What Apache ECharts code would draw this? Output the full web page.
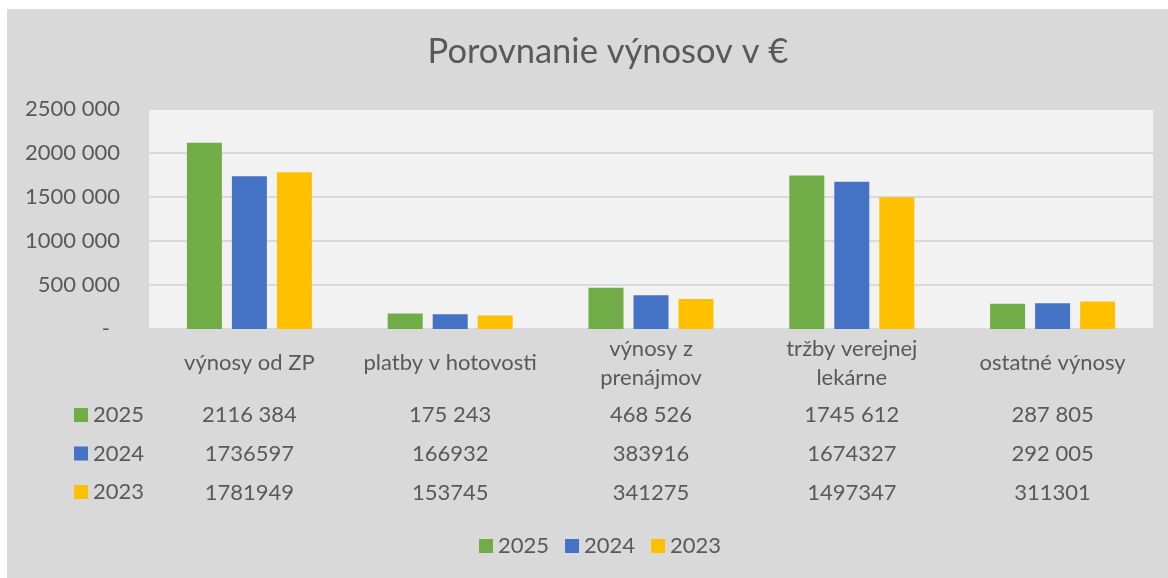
<!DOCTYPE html>
<html>
<head>
<meta charset="utf-8">
<script src="https://cdn.jsdelivr.net/npm/echarts@6/dist/echarts.min.js"></script>
<style>
html,body{margin:0;padding:0;background:#ffffff;width:1168px;height:578px;overflow:hidden;}
#c{position:absolute;left:7px;top:9px;width:1161px;height:569px;}
</style>
</head>
<body>
<div id="c"></div>
<script>
var categories = ['výnosy od ZP', 'platby v hotovosti', 'výnosy z\nprenájmov', 'tržby verejnej\nlekárne', 'ostatné výnosy'];
var seriesNames = ['2025', '2024', '2023'];
var v2025 = [2116384, 175243, 468526, 1745612, 287805];
var v2024 = [1736597, 166932, 383916, 1674327, 292005];
var v2023 = [1781949, 153745, 341275, 1497347, 311301];
var t2025 = ['2116 384', '175 243', '468 526', '1745 612', '287 805'];
var t2024 = ['1736597', '166932', '383916', '1674327', '292 005'];
var t2023 = ['1781949', '153745', '341275', '1497347', '311301'];
var colors = ['#70AD47', '#4472C4', '#FFC000'];

var FONT = 'Lato';
var TXT = '#595959';
var FS = 22;

function fmtY(v) {
  if (v === 0) return '{d|-}';
  var th = Math.floor(v / 1000), r = v % 1000;
  return th + ' ' + ('00' + r).slice(-3);
}

function tableAxis(labels, margin) {
  return {
    type: 'category', gridIndex: 0, position: 'bottom', offset: 0,
    data: labels,
    axisLine: {show: false}, axisTick: {show: false}, splitLine: {show: false},
    axisLabel: {interval: 0, margin: margin, verticalAlign: 'middle', color: TXT, fontFamily: FONT, fontSize: FS}
  };
}

var chart = echarts.init(document.getElementById('c'), null, {renderer: 'canvas'});
chart.setOption({
  backgroundColor: '#d9d9d9',
  animation: false,
  title: {
    text: 'Porovnanie výnosov v €',
    left: 596, top: 20, textAlign: 'center',
    textStyle: {color: TXT, fontFamily: FONT, fontSize: 34.5, fontWeight: 'normal'}
  },
  legend: [{
    orient: 'vertical', left: 67, top: 394, padding: 0,
    data: seriesNames, icon: 'rect', itemWidth: 14, itemHeight: 14, itemGap: 14.5,
    textStyle: {color: TXT, fontFamily: FONT, fontSize: FS, lineHeight: 24}
  }, {
    orient: 'horizontal', left: 472, top: 525, padding: 0,
    data: seriesNames, icon: 'rect', itemWidth: 14, itemHeight: 14, itemGap: 16,
    textStyle: {color: TXT, fontFamily: FONT, fontSize: FS, lineHeight: 24}
  }],
  grid: {left: 142, right: 15, top: 100, bottom: 249, show: true, backgroundColor: '#f2f2f2', borderWidth: 0},
  xAxis: [{
    type: 'category', data: categories,
    axisLine: {show: false}, axisTick: {show: false},
    axisLabel: {interval: 0, margin: 34, verticalAlign: 'middle', lineHeight: 29, color: TXT, fontFamily: FONT, fontSize: FS}
  },
    tableAxis(t2025, 86),
    tableAxis(t2024, 125),
    tableAxis(t2023, 164)
  ],
  yAxis: {
    type: 'value', min: 0, max: 2500000, interval: 500000,
    axisLine: {show: false}, axisTick: {show: false},
    splitLine: {lineStyle: {color: '#d9d9d9', width: 2}},
    axisLabel: {margin: 29, formatter: fmtY, color: TXT, fontFamily: FONT, fontSize: FS,
      rich: {d: {color: TXT, fontFamily: FONT, fontSize: FS, padding: [0, 10, 0, 0]}}}
  },
  series: [
    {name: seriesNames[0], type: 'bar', data: v2025, barWidth: 35, barGap: '28.6%', itemStyle: {color: colors[0]}},
    {name: seriesNames[1], type: 'bar', data: v2024, barWidth: 35, barGap: '28.6%', itemStyle: {color: colors[1]}},
    {name: seriesNames[2], type: 'bar', data: v2023, barWidth: 35, barGap: '28.6%', itemStyle: {color: colors[2]}}
  ]
});
</script>
</body>
</html>
